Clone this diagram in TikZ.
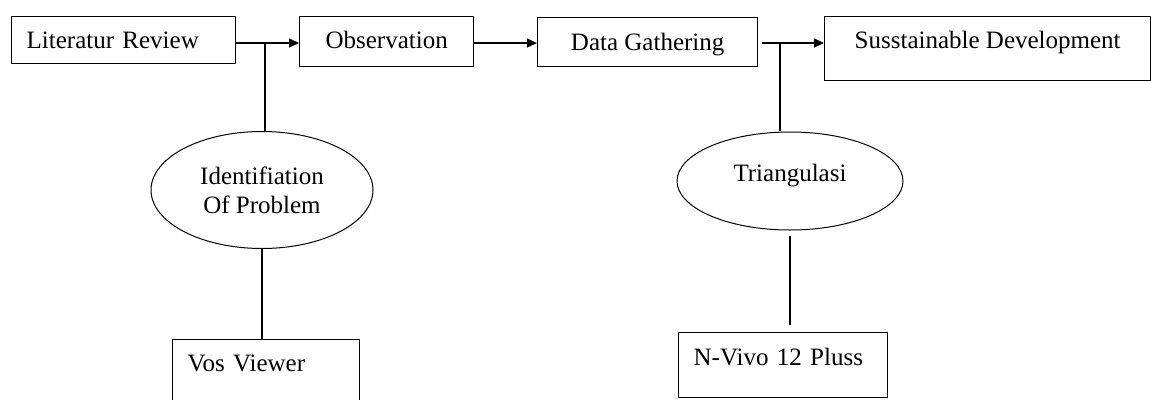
\documentclass[tikz,border=0pt]{standalone}
\usepackage{fontspec}
\setmainfont{Liberation Serif}
\usetikzlibrary{shapes.geometric,arrows.meta}
\begin{document}
\begin{tikzpicture}[x=1pt,y=-1pt,
  font=\fontsize{25}{29}\selectfont,
  box/.style={draw,line width=1.3pt,anchor=north west,inner ysep=0pt,text height=18pt},
  cbox/.style={box,inner xsep=0pt},
  lbox/.style={box,inner xsep=15pt,align=left},
  oval/.style={draw,ellipse,line width=1pt,inner sep=0pt,align=center},
  conn/.style={line width=1.3pt},
  arr/.style={conn,-{Triangle[length=10pt,width=9pt]}}]
\useasboundingbox (0,0) rectangle (1151,399);
\node[lbox,text width=194pt,minimum height=47pt,text depth=1pt] (lit) at (11,16) {Literatur Review};
\node[cbox,minimum width=174pt,minimum height=50pt,text depth=4pt] (obs) at (299,16) {Observation};
\node[cbox,minimum width=220pt,minimum height=49pt,text depth=1pt] (data) at (537,17) {Data Gathering};
\node[cbox,minimum width=326pt,minimum height=64pt,text depth=18pt] (sust) at (824,16) {Susstainable Development};
\node[lbox,text width=157pt,minimum height=63pt,text depth=17pt] (vos) at (172,339) {Vos Viewer};
\node[lbox,text width=179pt,minimum height=65pt,text depth=17pt] (nv) at (678,332) {N-Vivo 12 Pluss};
\node[oval,minimum width=222pt,minimum height=117pt] (idp) at (262,190) {Identifiation\\Of Problem};
\node[oval,minimum width=226pt,minimum height=98pt,text height=18pt,text depth=18pt] (tri) at (790,181) {Triangulasi};
\coordinate (j1) at (265,43);
\coordinate (j2) at (780,43);
\draw[conn] (lit.east|-j1) -- (j1);
\draw[arr] (j1) -- (obs.west|-j1);
\draw[conn] (j1) -- (j1|-idp.north);
\draw[arr] (obs.east|-j1) -- (data.west|-j1);
\draw[conn] (data.east|-j2) ++(4,0) -- (j2);
\draw[arr] (j2) -- (sust.west|-j2);
\draw[conn] (j2) -- ([yshift=0.5pt]j2|-tri.north);
\draw[conn] (idp.south) -- (idp.south|-vos.north);
\draw[conn,shorten <=5pt,shorten >=7pt] (tri.south) -- (tri.south|-nv.north);
\end{tikzpicture}
\end{document}
